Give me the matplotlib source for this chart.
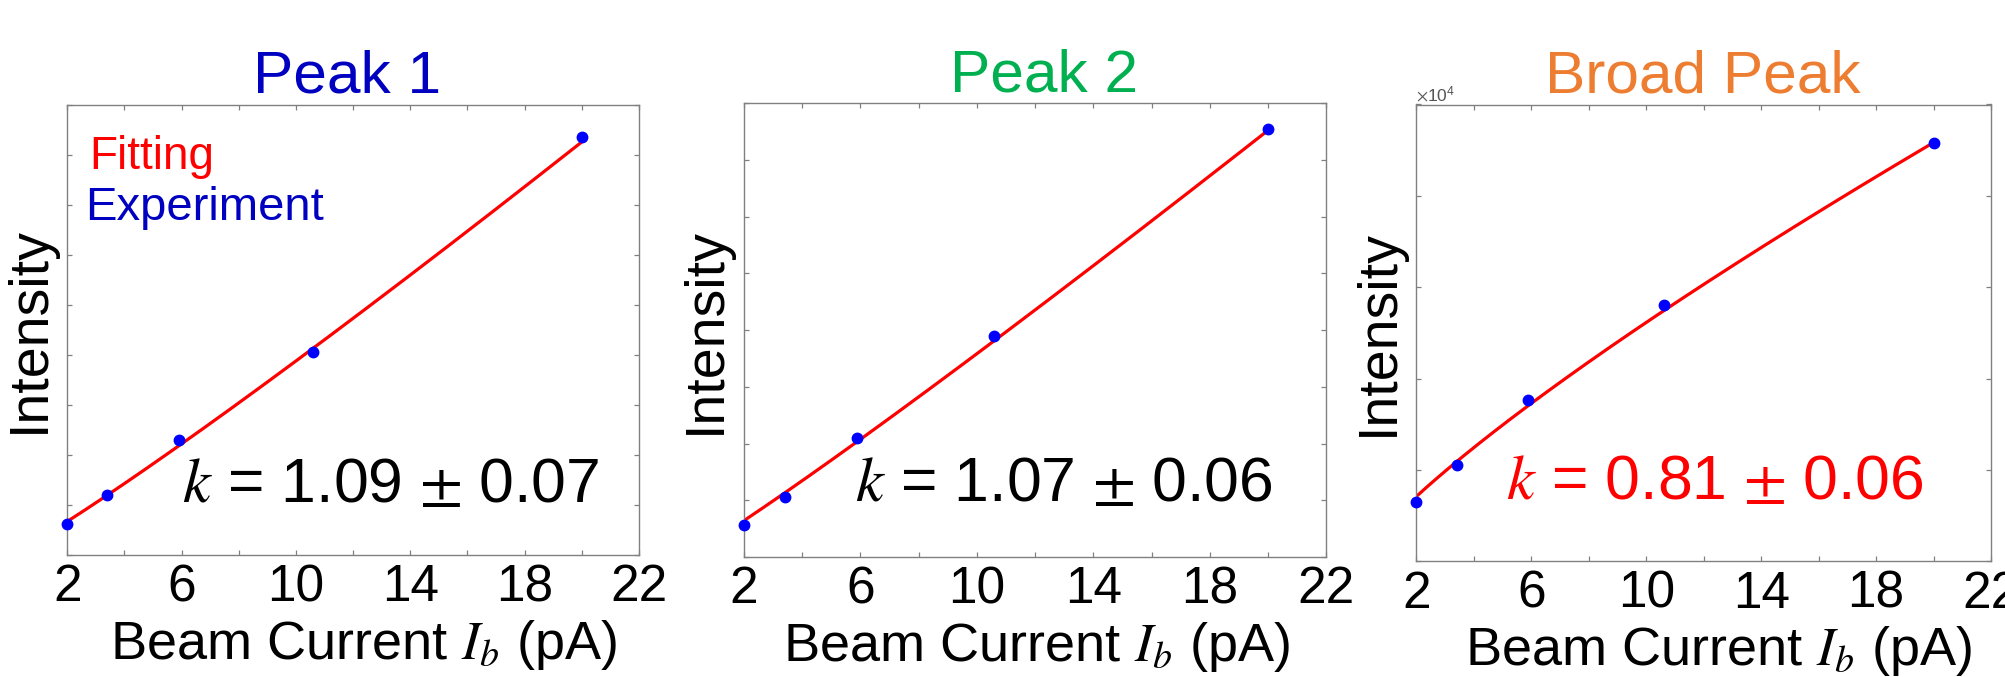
import numpy as np
import matplotlib
matplotlib.use("Agg")
import matplotlib.pyplot as plt

plt.rcParams['font.family'] = ['Liberation Sans', 'DejaVu Sans']
plt.rcParams['mathtext.fontset'] = 'stix'

# ---------------- data ----------------
titles = ["Peak 1", "Peak 2", "Broad Peak"]
title_colors = ["#0000C0", "#00B050", "#ED7D31"]

beam_current = [2.0, 3.4, 5.9, 10.6, 20.0]          # pA
intensity_peak1 = [0.62, 1.20, 2.30, 4.06, 8.36]     # arb. units
intensity_peak2 = [0.56, 1.05, 2.09, 3.89, 7.54]     # arb. units
intensity_broad = [0.65, 1.05, 1.77, 2.81, 4.58]     # x 10^4

# power-law fit I = a * Ib^k
fit_a = [0.315, 0.305, 0.405]
fit_k = [1.09, 1.07, 0.81]
fit_k_err = [0.07, 0.06, 0.06]
k_text_colors = ["black", "black", "#FF0000"]

y_max = [9, 8, 5]
x_major_ticks = [2, 6, 10, 14, 18, 22]
x_minor_ticks = [4, 8, 12, 16, 20]

series = [intensity_peak1, intensity_peak2, intensity_broad]

# ---------------- layout ----------------
W, H = 2006, 677
fig = plt.figure(figsize=(W / 100, H / 100), dpi=100)

axes_px = [  # left, top, right, bottom in pixels
    (67.3, 104.5, 638.8, 555.0),
    (743.9, 103.2, 1326.4, 557.0),
    (1416.4, 104.5, 1991.1, 561.3),
]
k_pos = [(0.200, 0.118), (0.191, 0.124), (0.156, 0.137)]
title_x = [0.490, 0.515, 0.498]
xlabel_x = [0.519, 0.503, 0.526]

spine_col = "#808080"

for i in range(3):
    l, t, r, b = axes_px[i]
    ax = fig.add_axes([l / W, 1 - b / H, (r - l) / W, (b - t) / H])

    xs = np.linspace(2, 20, 200)
    ax.plot(xs, fit_a[i] * xs ** fit_k[i], color="#FF0000", lw=2.3, zorder=2)
    ax.plot(beam_current, series[i], 'o', color="#0000FF", ms=7.5, mec="#0000FF",
            zorder=3, clip_on=False)

    ax.set_xlim(2, 22)
    ax.set_ylim(0, y_max[i])
    ax.set_xticks(x_major_ticks)
    ax.set_xticks(x_minor_ticks, minor=True)
    ax.set_yticks(np.arange(0, y_max[i] + 1))
    ax.set_yticklabels([])
    ax.tick_params(which='both', direction='in', top=True, right=True,
                   length=3.3, width=0.9, color=spine_col)
    ax.tick_params(axis='x', labelsize=37, pad=6)
    for s in ax.spines.values():
        s.set_color(spine_col)
        s.set_linewidth(1.0)

    ax.set_xlabel(r"Beam Current $I_b$ (pA)", fontsize=39, labelpad=3.8)
    ax.xaxis.label.set_x(xlabel_x[i])
    ax.set_ylabel("Intensity", fontsize=40, labelpad=5)
    ax.set_title(titles[i], color=title_colors[i], fontsize=43.5, pad=6.8,
                 x=title_x[i])

    ax.text(k_pos[i][0], k_pos[i][1],
            r"$k$ = %.2f$\,\pm\,$%.2f" % (fit_k[i], fit_k_err[i]),
            transform=ax.transAxes, fontsize=45, color=k_text_colors[i],
            ha='left', va='baseline')

    if i == 0:
        ax.text(0.038, 0.857, "Fitting", transform=ax.transAxes, fontsize=33,
                color="#FF0000", ha='left', va='baseline')
        ax.text(0.031, 0.744, "Experiment", transform=ax.transAxes, fontsize=34,
                color="#0000C0", ha='left', va='baseline')
    if i == 2:
        ax.text(0.0, 1 + (105 - 101.7) / (b - t),
                r"$\times\mathregular{10^{4}}$", transform=ax.transAxes,
                fontsize=12.5, color="#555555", ha='left', va='baseline')

fig.savefig("out.png", dpi=100)
